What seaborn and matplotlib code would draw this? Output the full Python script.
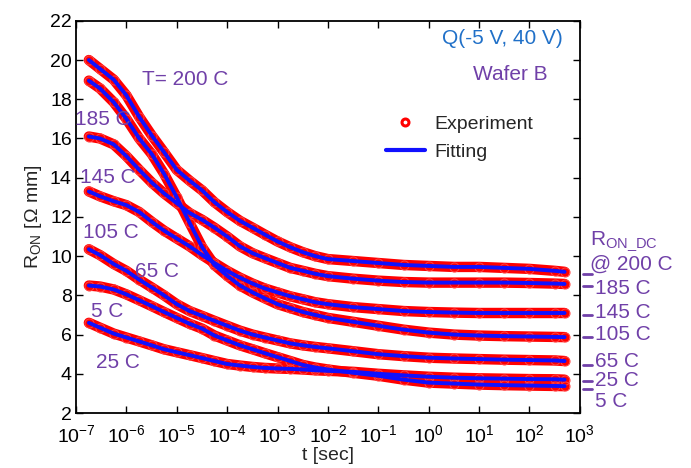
import matplotlib
matplotlib.use('Agg')
import matplotlib.pyplot as plt
import matplotlib.transforms as mtransforms
from matplotlib.lines import Line2D
from matplotlib.ticker import LogLocator, NullLocator, MultipleLocator
import pandas as pd
import seaborn as sns

# time axis (s) and R_ON (ohm mm)
t_sec = [1.8e-7, 3.0e-7, 5.6e-7, 1.0e-6, 1.8e-6, 3.2e-6, 5.6e-6, 1.0e-5, 1.8e-5,
         3.2e-5, 5.6e-5, 1.0e-4, 1.8e-4, 3.2e-4, 5.6e-4, 1.0e-3, 1.8e-3, 3.2e-3,
         5.6e-3, 1.0e-2, 3.2e-2, 1.0e-1, 3.2e-1, 1.0, 3.2, 10.0, 32.0, 100.0,
         320.0, 500.0]
r_200 = [20.0, 19.55, 19.0, 18.2, 17.1, 16.15, 15.3, 14.4, 13.85, 13.35, 12.75, 12.25,
         11.8, 11.45, 11.1, 10.75, 10.45, 10.2, 10.0, 9.85, 9.75, 9.65, 9.55, 9.5,
         9.45, 9.45, 9.4, 9.35, 9.25, 9.2]
r_185 = [18.95, 18.55, 17.85, 17.0, 16.0, 15.2, 14.2, 13.0, 11.7, 10.45, 9.55, 9.0,
         8.5, 8.15, 7.85, 7.55, 7.35, 7.15, 7.0, 6.85, 6.65, 6.45, 6.25, 6.1,
         6.0, 5.95, 5.92, 5.9, 5.88, 5.87]
r_145 = [16.1, 16.0, 15.7, 15.1, 14.4, 13.75, 13.2, 12.7, 12.2, 11.85, 11.45, 11.0,
         10.5, 10.15, 9.9, 9.65, 9.4, 9.25, 9.1, 8.98, 8.85, 8.75, 8.68, 8.65,
         8.65, 8.65, 8.65, 8.63, 8.6, 8.58]
r_105 = [13.3, 13.05, 12.8, 12.6, 12.25, 11.75, 11.3, 10.9, 10.5, 10.05, 9.65, 9.25,
         8.9, 8.6, 8.35, 8.15, 7.95, 7.8, 7.65, 7.55, 7.4, 7.3, 7.2, 7.15,
         7.12, 7.1, 7.1, 7.1, 7.1, 7.1]
r_65 = [10.35, 10.05, 9.6, 9.25, 8.8, 8.4, 8.0, 7.55, 7.2, 6.95, 6.7, 6.45,
        6.2, 6.0, 5.85, 5.7, 5.55, 5.45, 5.37, 5.3, 5.15, 5.0, 4.9, 4.82,
        4.78, 4.75, 4.72, 4.7, 4.68, 4.65]
r_5 = [8.5, 8.45, 8.3, 8.05, 7.75, 7.45, 7.15, 6.85, 6.55, 6.3, 5.95, 5.7,
       5.45, 5.25, 5.05, 4.85, 4.65, 4.45, 4.32, 4.22, 4.05, 3.9, 3.7, 3.55,
       3.5, 3.45, 3.42, 3.4, 3.38, 3.37]
r_25 = [6.6, 6.35, 6.05, 5.85, 5.65, 5.45, 5.25, 5.1, 4.95, 4.8, 4.65, 4.5,
        4.42, 4.35, 4.3, 4.27, 4.25, 4.22, 4.18, 4.15, 4.1, 4.0, 3.92, 3.85,
        3.8, 3.77, 3.75, 3.73, 3.72, 3.7]

curves = {'200 C': r_200, '185 C': r_185, '145 C': r_145, '105 C': r_105,
          '65 C': r_65, '5 C': r_5, '25 C': r_25}

# DC on-resistance markers on the right side
r_dc = [9.1, 8.5, 7.0, 5.9, 4.45, 3.65, 3.2]
dc_labels = ['185 C', '145 C', '105 C', '65 C', '25 C', '5 C']
dc_label_y = [8.36, 7.14, 6.02, 4.65, 3.68, 2.6]

df = pd.concat([pd.DataFrame({'t': t_sec, 'r': r, 'curve': name})
                for name, r in curves.items()], ignore_index=True)

sns.set_theme(style='ticks')
plt.rcParams['font.family'] = ['Liberation Sans', 'DejaVu Sans']
plt.rcParams['mathtext.default'] = 'regular'

purple = '#7040a8'
blue = '#1010ff'

fig = plt.figure(figsize=(6.91, 4.68), dpi=100)
ax = fig.add_axes([0.110, 0.1175, 0.729, 0.838])
ax.set_xscale('log')

# experiment: dense red band + open circles
sns.lineplot(data=df, x='t', y='r', units='curve', estimator=None, sort=False,
             color='red', linewidth=7.5, solid_joinstyle='round',
             solid_capstyle='round', legend=False, ax=ax)
sns.lineplot(data=df, x='t', y='r', units='curve', estimator=None, sort=False,
             color='red', marker='o', linestyle='none', markerfacecolor='none',
             markeredgecolor='#ff4040', markersize=6.5, legend=False, ax=ax)
# fitting
sns.lineplot(data=df, x='t', y='r', units='curve', estimator=None, sort=False,
             color=blue, linewidth=2.8, solid_joinstyle='round', legend=False, ax=ax)

ax.set_xlim(1e-7, 1e3)
ax.set_ylim(2, 22)
ax.xaxis.set_major_locator(LogLocator(base=10, numticks=12))
ax.xaxis.set_minor_locator(NullLocator())
ax.yaxis.set_major_locator(MultipleLocator(2))
ax.tick_params(direction='in', top=True, right=True, length=5, width=1,
               labelsize=14, colors='black')
ax.tick_params(axis='y', pad=3)
ax.tick_params(axis='x', pad=8)
for sp in ax.spines.values():
    sp.set_color('black')
    sp.set_linewidth(1.3)

ax.set_xlabel('t [sec]', fontsize=14, labelpad=1)
ax.set_ylabel('R$_{ON}$ [Ω mm]', fontsize=14, labelpad=4)

# curve labels
ax.text(2.0e-6, 19.0, 'T= 200 C', color=purple, fontsize=15, va='center')
ax.text(9.6e-8, 16.95, '185 C', color=purple, fontsize=15, va='center')
ax.text(1.18e-7, 14.0, '145 C', color=purple, fontsize=15, va='center')
ax.text(1.4e-7, 11.2, '105 C', color=purple, fontsize=15, va='center')
ax.text(1.45e-6, 9.2, '65 C', color=purple, fontsize=15, va='center')
ax.text(2.0e-7, 7.2, '5 C', color=purple, fontsize=15, va='center')
ax.text(2.5e-7, 4.6, '25 C', color=purple, fontsize=15, va='center')

ax.text(4.6e2, 21.1, 'Q(-5 V, 40 V)', color='#2070c8', fontsize=15,
        ha='right', va='center')
ax.text(2.3e2, 19.25, 'Wafer B', color=purple, fontsize=15,
        ha='right', va='center')

handles = [Line2D([], [], linestyle='none', marker='o', markerfacecolor='none',
                  markeredgecolor='red', markeredgewidth=2.2, markersize=5),
           Line2D([], [], color=blue, linewidth=3)]
ax.legend(handles, ['Experiment', 'Fitting'], frameon=False, loc='upper left',
          bbox_to_anchor=(0.615, 0.76), fontsize=14, handlelength=2.0,
          handletextpad=0.5, labelspacing=0.55, borderaxespad=0, borderpad=0)

# right side R_ON_DC markers
trans = mtransforms.blended_transform_factory(ax.transAxes, ax.transData)
for v in r_dc:
    ax.plot([1.006, 1.024], [v, v], color=purple, linewidth=2,
            transform=trans, clip_on=False)
ax.text(1.02, 10.75, 'R$_{ON\\_DC}$', color=purple, fontsize=15,
        transform=trans, va='center')
ax.text(1.02, 9.6, '@ 200 C', color=purple, fontsize=15,
        transform=trans, va='center')
for lab, y in zip(dc_labels, dc_label_y):
    ax.text(1.03, y, lab, color=purple, fontsize=15, transform=trans, va='center')

fig.savefig('out.png', dpi=100)
